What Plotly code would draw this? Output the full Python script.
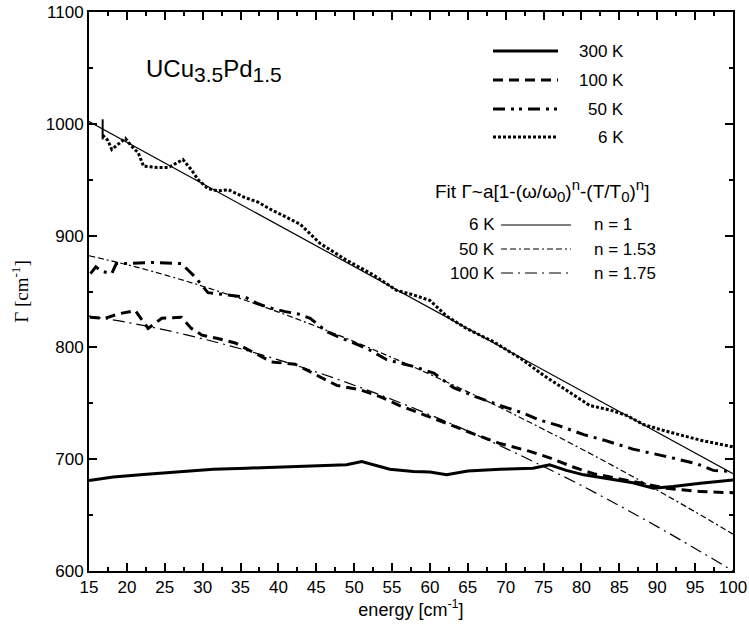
import plotly.graph_objects as go

# ---- data ----
x_300K = [15, 18.2, 22.6, 27, 31.4, 35.8, 40.2, 44.6, 49, 51, 54.7, 57.8, 60, 62.2, 65,
          69.25, 73.6, 75.8, 78, 80.3, 83.8, 86.8, 89.5, 92.1, 95.7, 100]
y_300K = [681, 684, 686.5, 689, 691, 692, 693, 694, 695, 698, 691, 689, 688.5, 686, 689.5,
          691, 692, 695, 690, 686, 682, 679, 674, 675.5, 678.5, 681.5]

x_100K = [15.1, 17.1, 18.9, 21.1, 22.8, 24.6, 27.2, 28.5, 29.9, 32, 34.3, 36.9, 39.1, 42.2,
          45.5, 47.7, 50.8, 53.4, 56, 60, 63, 66, 69.25, 73.2, 75.9, 78.9, 81.6, 84.6, 88.2,
          91.2, 95.7, 100]
y_100K = [827, 826, 830, 833, 817, 826, 827, 817, 811, 808, 804, 795, 787, 785,
          774, 766, 762, 756, 748, 738, 730, 722, 714, 707, 701, 693, 687, 683, 678,
          674, 671, 670]

x_50K = [15.2, 15.9, 16.7, 18, 18.6, 20.2, 23.3, 25.9, 27.2, 28.1, 29, 30.7, 32, 33.8, 35.6,
         37.3, 39.1, 40.9, 42.6, 44.2, 46.4, 47.7, 51.7, 54.3, 57.8, 60.5, 63.1, 66, 69.25,
         72, 74.5, 77, 80.3, 83, 86.8, 90.8, 95.2, 97.4, 100]
y_50K = [866, 872, 868, 866, 875, 875, 876, 875, 875, 869, 863, 849, 848, 847, 845,
         839, 835, 832, 830, 826, 814, 810, 799, 789, 783, 777, 764, 756, 748,
         742, 735, 730, 722, 717, 709, 703, 696, 690, 689]

x_6K = [16.8, 17.5, 18, 19, 19.8, 20.6, 21.5, 22.2, 24, 25.5, 26.6, 27.4, 28.5, 29.4, 30.7,
        32, 33.4, 35.6, 37.3, 39.1, 40.9, 42.9, 45.5, 49, 52.5, 55.6, 57.8, 60, 62.2, 64.8,
        68.4, 72, 75, 78, 81.1, 83.8, 86, 88.2, 91.2, 95.7, 100]
y_6K = [990, 985, 977, 983, 987, 980, 974, 962, 961, 961, 965, 968, 959, 950, 942,
        940, 941, 934, 930, 923, 917, 910, 893, 878, 865, 851, 847, 842, 828, 817,
        805, 790, 775, 762, 748, 744, 739, 731, 725, 717, 711]

x_6K_bar = [16.8, 16.8]
y_6K_bar = [1004, 986]

x_fit6 = [15, 100]
y_fit6 = [1002, 687]

x_fit = [15, 20, 25, 30, 35, 40, 45, 50, 55, 60, 65, 70, 75, 80, 85, 90, 95, 100]
y_fit50 = [882.0, 874.0, 864.9, 854.7, 843.6, 831.6, 818.8, 805.2, 790.9, 775.9, 760.2,
           743.8, 726.7, 709.2, 691.0, 672.3, 652.9, 633.0]
y_fit100 = [828.0, 822.4, 815.6, 807.7, 798.8, 788.9, 778.0, 766.2, 753.4, 739.7, 725.2,
            709.7, 693.4, 676.4, 658.4, 639.7, 620.2, 600.0]

x_ticks = list(range(15, 101, 5))
y_ticks = [600, 700, 800, 900, 1000, 1100]

# ---- styles ----
DASH_100 = "10px,6px"
DASH_50 = "12px,6px,3px,6px"
DASH_50_LEG = "12px,6px,3px,5px,3px,6px"
DASH_F50 = "6px,3px,6px,3px,2px,3px"
DASH_F100 = "12px,5px,2px,5px"
FONT = "Liberation Sans, Arial, sans-serif"

fig = go.Figure()
fig.add_trace(go.Scatter(x=x_300K, y=y_300K, mode="lines", name="300 K",
                         line=dict(color="black", width=3)))
fig.add_trace(go.Scatter(x=x_100K, y=y_100K, mode="lines", name="100 K",
                         line=dict(color="black", width=3, dash=DASH_100)))
fig.add_trace(go.Scatter(x=x_50K, y=y_50K, mode="lines", name="50 K",
                         line=dict(color="black", width=3, dash=DASH_50)))
fig.add_trace(go.Scatter(x=x_6K, y=y_6K, mode="lines", name="6 K",
                         line=dict(color="black", width=3, dash="3px,2px")))
fig.add_trace(go.Scatter(x=x_6K_bar, y=y_6K_bar, mode="lines", name="6 K bar",
                         line=dict(color="black", width=2)))
fig.add_trace(go.Scatter(x=x_fit6, y=y_fit6, mode="lines", name="fit 6 K",
                         line=dict(color="black", width=1.2)))
fig.add_trace(go.Scatter(x=x_fit, y=y_fit50, mode="lines", name="fit 50 K",
                         line=dict(color="black", width=1.2, dash=DASH_F50, shape="spline")))
fig.add_trace(go.Scatter(x=x_fit, y=y_fit100, mode="lines", name="fit 100 K",
                         line=dict(color="black", width=1.2, dash=DASH_F100, shape="spline")))

# ---- geometry (page body margin removed by post_script) ----
W, H = 749, 630
L, R, T, B = 89, 16, 12, 59
pw, ph = W - L - R, H - T - B


def px(xp):
    return (xp - L) / pw


def py(yp):
    return 1 - (yp - T) / ph


legend1 = [("300 K", 51, None, 3), ("100 K", 80, DASH_100, 3),
           ("50 K", 109, DASH_50_LEG, 3), ("6 K", 137, "3px,2px", 3)]
for lab, yp, dash, w in legend1:
    fig.add_shape(type="line", xref="paper", yref="paper", x0=px(493), x1=px(558),
                  y0=py(yp), y1=py(yp), line=dict(color="black", width=w, dash=dash))
    fig.add_annotation(x=px(626), y=py(yp), xref="paper", yref="paper", text=lab,
                       showarrow=False, xanchor="right", yanchor="middle",
                       font=dict(family=FONT, size=17, color="black"))

SS = "<span style='font-size:15px'>"
fig.add_annotation(x=px(433), y=py(190), xref="paper", yref="paper",
                   text=("Fit Γ~a[1-(ω/ω<sub>" + SS + "0</span></sub>)<sup>" + SS + "n</span></sup>"
                         "-(T/T<sub>" + SS + "0</span></sub>)<sup>" + SS + "n</span></sup>]"),
                   showarrow=False, xanchor="left", yanchor="middle",
                   font=dict(family=FONT, size=19, color="black"))

legend2 = [("6 K", "n = 1", 225, None), ("50 K", "n = 1.53", 249, DASH_F50),
           ("100 K", "n = 1.75", 273, DASH_F100)]
for lab, ntxt, yp, dash in legend2:
    fig.add_shape(type="line", xref="paper", yref="paper", x0=px(501), x1=px(571),
                  y0=py(yp), y1=py(yp), line=dict(color="black", width=1.2, dash=dash))
    fig.add_annotation(x=px(497), y=py(yp), xref="paper", yref="paper", text=lab,
                       showarrow=False, xanchor="right", yanchor="middle",
                       font=dict(family=FONT, size=17, color="black"))
    fig.add_annotation(x=px(592), y=py(yp), xref="paper", yref="paper", text=ntxt,
                       showarrow=False, xanchor="left", yanchor="middle",
                       font=dict(family=FONT, size=17, color="black"))

SB = "<span style='font-size:21px'>"
fig.add_annotation(x=px(144), y=py(70), xref="paper", yref="paper",
                   text="UCu<sub>" + SB + "3.5</span></sub>Pd<sub>" + SB + "1.5</span></sub>",
                   showarrow=False, xanchor="left", yanchor="middle",
                   font=dict(family=FONT, size=24, color="black"))

axis_common = dict(showline=True, linecolor="black", linewidth=2, mirror="ticks",
                   ticks="inside", ticklen=8, tickwidth=1.5, tickcolor="black",
                   showgrid=False, zeroline=False, automargin=False,
                   ticklabeloverflow="allow",
                   tickfont=dict(family=FONT, size=17, color="black"))

fig.update_layout(
    width=W, height=H, showlegend=False,
    paper_bgcolor="white", plot_bgcolor="white",
    margin=dict(l=L, r=R, t=T, b=B),
    xaxis=dict(range=[15, 100], tickvals=x_ticks, ticktext=[str(v) for v in x_ticks],
               minor=dict(dtick=2.5, tick0=15, ticklen=4, ticks="inside", tickcolor="black"),
               title=dict(text="energy [cm<sup>-1</sup>]", standoff=2,
                          font=dict(family=FONT, size=18, color="black")),
               **axis_common),
    yaxis=dict(range=[600, 1100], tickvals=y_ticks, ticktext=[str(v) for v in y_ticks],
               minor=dict(dtick=50, tick0=600, ticklen=4, ticks="inside", tickcolor="black"),
               title=dict(text="Γ [cm<sup>-1</sup>]", standoff=12,
                          font=dict(family="Liberation Serif, Times New Roman, serif",
                                    size=19, color="black")),
               **axis_common),
)

fig.write_html("out.html", config={"displayModeBar": False},
               post_script="document.body.style.margin='0';document.body.style.overflow='hidden';")
